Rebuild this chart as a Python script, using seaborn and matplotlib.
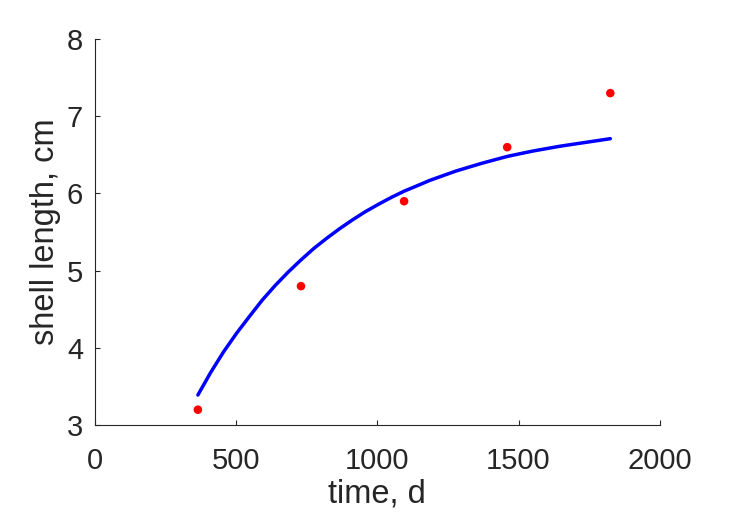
import pandas as pd
import matplotlib
matplotlib.use('Agg')
import matplotlib.pyplot as plt
import seaborn as sns

# measured shell lengths
age_days = [365, 730, 1095, 1460, 1825]
shell_cm = [3.2, 4.8, 5.9, 6.6, 7.3]

# fitted growth curve
fit_days = [365, 410, 456, 502, 548, 593, 639, 684, 730, 776, 821, 867, 913,
            958, 1004, 1050, 1095, 1141, 1186, 1232, 1278, 1323, 1369, 1414,
            1460, 1505, 1551, 1597, 1643, 1688, 1734, 1780, 1825]
fit_cm = [3.39, 3.68, 3.95, 4.19, 4.41, 4.62, 4.81, 4.98, 5.14, 5.29, 5.42,
          5.545, 5.66, 5.765, 5.86, 5.95, 6.03, 6.10, 6.17, 6.23, 6.29, 6.34,
          6.39, 6.435, 6.48, 6.515, 6.55, 6.58, 6.61, 6.635, 6.66, 6.685, 6.71]

pts = pd.DataFrame({'time': age_days, 'length': shell_cm})
fit = pd.DataFrame({'time': fit_days, 'length': fit_cm})

sns.set_style('white')
plt.rcParams['font.family'] = ['Liberation Sans', 'DejaVu Sans']
dark = '#262626'

fig = plt.figure(figsize=(7.29, 5.21), dpi=100)
ax = fig.add_axes([0.130, 0.184, 0.775, 0.741])

sns.lineplot(data=fit, x='time', y='length', color='#0000ff', linewidth=2.5,
             solid_joinstyle='round', ax=ax)
sns.scatterplot(data=pts, x='time', y='length', color='#ff0000', s=38,
                edgecolor='none', ax=ax, zorder=3)

ax.set_xlim(0, 2000)
ax.set_ylim(3, 8)
ax.set_xticks([0, 500, 1000, 1500, 2000])
ax.set_yticks([3, 4, 5, 6, 7, 8])
ax.set_xlabel('time, d', fontsize=23.5, color=dark, labelpad=2)
ax.set_ylabel('shell length, cm', fontsize=23.5, color=dark, labelpad=4.5)
ax.tick_params(direction='in', length=3.6, width=0.8, colors=dark,
               labelsize=21, bottom=True, left=True)
ax.tick_params(axis='x', pad=16)
ax.tick_params(axis='y', pad=8.4)
sns.despine(ax=ax)
for s in ['left', 'bottom']:
    ax.spines[s].set_color(dark)
    ax.spines[s].set_linewidth(0.8)

fig.savefig('out.png', dpi=100)
